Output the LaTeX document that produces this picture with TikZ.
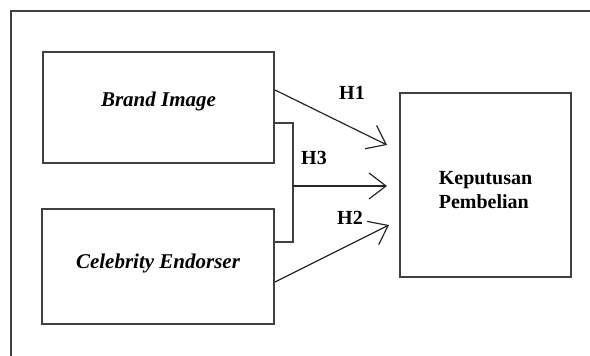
\documentclass[tikz,border=0pt]{standalone}
\usepackage{fontspec}
\setmainfont{Liberation Serif}
\usetikzlibrary{arrows.meta}

\begin{document}
\begin{tikzpicture}[x=0.5pt,y=-0.5pt,
    box/.style={draw=black!75,line width=1pt,inner sep=0pt},
    varname/.style={font=\fontsize{10.5}{12.5}\selectfont\bfseries\itshape},
    link/.style={draw=black!85,line width=0.6pt,-{Straight Barb[length=8.5pt,width=13pt,line width=0.6pt]}}]
                    \useasboundingbox (0,0) rectangle (590,356);
                    % frame
                    \draw[black!75,line width=1pt] (11,356) -- (11,11) -- (590,11);

                    \node[box,varname,minimum width=115.5pt,minimum height=55.5pt,text height=7pt,text depth=7.5pt] (brand) at (158.5,107.5) {Brand Image};
                    \node[box,varname,minimum width=116pt,minimum height=57.5pt,text height=7.5pt,text depth=5pt] (celeb) at (158,266.5) {Celebrity Endorser};
                    \node[box,minimum width=85.5pt,minimum height=92pt] (kep) at (485.5,185) {};
                    \node[align=left,font=\bfseries] (keptext) at ([yshift=-2.75pt]kep.center) {Keputusan\\Pembelian};

                    % bracket
                    \coordinate (b1) at (brand.east |- 0,123);
                    \coordinate (b2) at (celeb.east |- 0,242);
                    \coordinate (j1) at (293,123);
                    \coordinate (j2) at (293,242);
                    \coordinate (j3) at (293,186);
                    \draw[black!75,line width=1pt] (b1) -- (j1) -- (j2) -- (b2);

                    \coordinate (s1) at (brand.east |- 0,90);
                    \coordinate (s2) at (celeb.east |- 0,282);
                    \coordinate (t1) at (387,145);
                    \coordinate (t2) at (389,225);
                    \coordinate (t3) at (387,186);
                    \draw[link] (s1) -- (t1);
                    \draw[link] (j3) -- (t3);
                    \draw[link] (s2) -- (t2);

                    \node[font=\bfseries] (h1) at (352,93) {H1};
                    \node[font=\bfseries] (h3) at (314,158) {H3};
                    \node[font=\bfseries] (h2) at (350,218) {H2};
\end{tikzpicture}
\end{document}
